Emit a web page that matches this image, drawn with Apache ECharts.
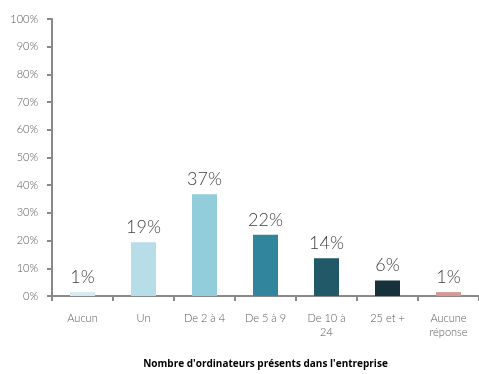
<!DOCTYPE html>
<html><head><meta charset="utf-8">
<script src="https://cdn.jsdelivr.net/npm/echarts@6/dist/echarts.min.js"></script>
<style>html,body{margin:0;padding:0;background:#fff;overflow:hidden}#c{width:479px;height:374px}</style>
</head><body><div id="c"></div>
<script>
var categories = ['Aucun', 'Un', 'De 2 à 4', 'De 5 à 9', 'De 10 à\n24', '25 et +', 'Aucune\nréponse'];
var values = [1.4, 19.4, 36.7, 22.1, 13.6, 5.6, 1.4];
var barColors = ['#d5ebf2', '#b7dde8', '#92cddc', '#31859c', '#215968', '#17313b', '#d99694'];
var axisTitle = "Nombre d'ordinateurs présents dans l'entreprise";

var chart = echarts.init(document.getElementById('c'));
chart.setOption({
  animation: false,
  grid: {left: 52, right: 0, top: 19, height: 286},
  xAxis: {
    type: 'category', data: categories,
    axisLine: {lineStyle: {color: '#898989', width: 2}},
    axisTick: {show: true, length: 5, lineStyle: {color: '#898989', width: 2}},
    axisLabel: {color: '#595959', fontSize: 11, fontFamily: 'Lato', fontWeight: 300, margin: 15, lineHeight: 14, interval: 0},
    name: axisTitle, nameLocation: 'middle', nameGap: 63,
    nameTextStyle: {fontSize: 10, fontWeight: 'bold', color: '#000', fontFamily: 'Open Sans'}
  },
  yAxis: {
    type: 'value', min: 0, max: 100, interval: 10,
    splitLine: {show: false},
    axisLine: {show: true, lineStyle: {color: '#898989', width: 2}},
    axisTick: {show: true, length: 5, lineStyle: {color: '#898989', width: 2}},
    axisLabel: {formatter: '{value}%', color: '#595959', fontSize: 11, fontFamily: 'Lato', fontWeight: 300, margin: 14}
  },
  series: [{
    type: 'bar', barWidth: 25,
    data: values.map(function (v, i) { return {value: v, itemStyle: {color: barColors[i]}}; }),
    label: {show: true, position: 'top', distance: 6, color: '#404040', fontSize: 18, fontFamily: 'Lato', fontWeight: 300,
      formatter: function (p) { return Math.round(p.value) + '%'; }}
  }]
});
</script></body></html>
